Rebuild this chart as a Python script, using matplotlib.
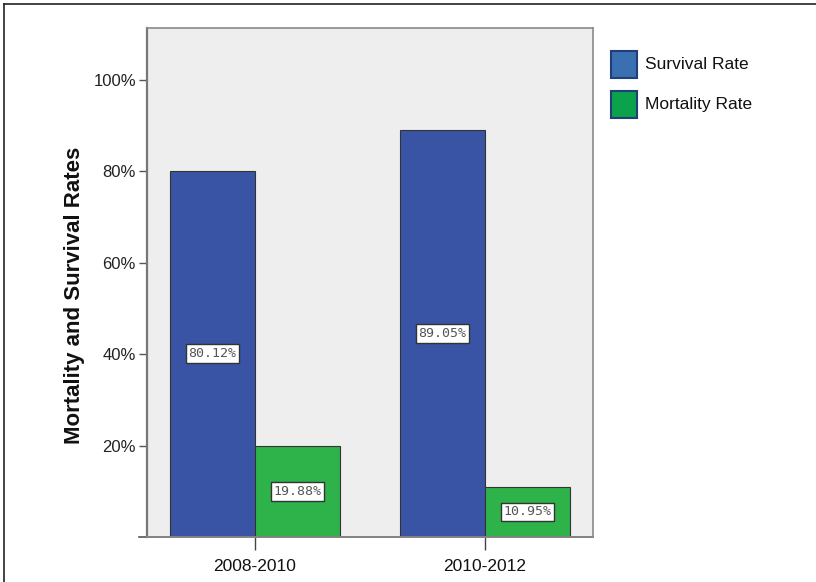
import matplotlib
matplotlib.use("Agg")
import matplotlib.pyplot as plt
from matplotlib.patches import Rectangle
from matplotlib.lines import Line2D
import numpy as np

periods = ["2008-2010", "2010-2012"]
survival = [80.12, 89.05]
mortality = [19.88, 10.95]
series_names = ["Survival Rate", "Mortality Rate"]
y_ticks = [20, 40, 60, 80, 100]
y_label = "Mortality and Survival Rates"

plt.rcParams["font.family"] = ["Liberation Sans", "DejaVu Sans"]

fig = plt.figure(figsize=(8.16, 5.82), dpi=100)
ax = fig.add_axes([147 / 816, 45 / 582, 446 / 816, 509 / 582])

ax.set_facecolor("#eeeeee")
for s in ax.spines.values():
    s.set_color("#8a8a8a")
    s.set_linewidth(1.2)
ax.spines["left"].set_color("#777777")
ax.spines["left"].set_linewidth(1.6)

x = np.arange(len(periods))
w = 0.37
bar_blue = "#3a54a5"
bar_green = "#2db34a"
b1 = ax.bar(x - w / 2, survival, w, color=bar_blue, edgecolor="#333333", linewidth=0.8)
b2 = ax.bar(x + w / 2, mortality, w, color=bar_green, edgecolor="#333333", linewidth=0.8)

for bars, vals in ((b1, survival), (b2, mortality)):
    for rect, v in zip(bars, vals):
        ax.text(rect.get_x() + rect.get_width() / 2, v / 2, f"{v:.2f}%",
                ha="center", va="center", fontsize=9.5, color="#555555",
                family="DejaVu Sans Mono",
                bbox=dict(boxstyle="square,pad=0.22", facecolor="white",
                          edgecolor="#333333", linewidth=1.0))

ax.set_xlim(-0.47, 1.47)
ax.set_ylim(0, 111.3)
ax.set_yticks(y_ticks)
ax.set_yticklabels([f"{t}%" for t in y_ticks], fontsize=12, color="#222222")
ax.set_xticks(x)
ax.set_xticklabels(periods, fontsize=12.5, color="#111111")
ax.tick_params(axis="y", length=6, width=1, color="#555555", pad=2)
ax.tick_params(axis="x", length=9, width=1, color="#444444", pad=7)
ax.set_ylabel(y_label, fontsize=16, fontweight="bold", color="#111111")
ax.yaxis.set_label_coords(-0.139, 0.475)

# baseline extends slightly past the left axis
ax.add_line(Line2D([-0.018, 1.0], [0, 0], transform=ax.transAxes, color="#555555",
                   linewidth=1.2, clip_on=False))

# legend swatches and labels
leg_colors = ["#3a70b2", "#0ca24c"]
for i, (name, c) in enumerate(zip(series_names, leg_colors)):
    y0 = 582 - 78 - i * 40
    fig.patches.append(Rectangle((611 / 816, y0 / 582), 26 / 816, 27 / 582,
                                 transform=fig.transFigure, facecolor=c,
                                 edgecolor="#1f3f7a", linewidth=1.5))
    fig.text(645 / 816, (y0 + 13.5) / 582, name, fontsize=12.5, color="#111111",
             va="center", ha="left")

# frame lines along the top and left edges
fig.add_artist(Line2D([4 / 816, 1.0], [1 - 4 / 582, 1 - 4 / 582], transform=fig.transFigure,
                      color="#222222", linewidth=1.2))
fig.add_artist(Line2D([4 / 816, 4 / 816], [0, 1 - 4 / 582], transform=fig.transFigure,
                      color="#222222", linewidth=1.2))

fig.savefig("out.png", dpi=100, facecolor="white")
